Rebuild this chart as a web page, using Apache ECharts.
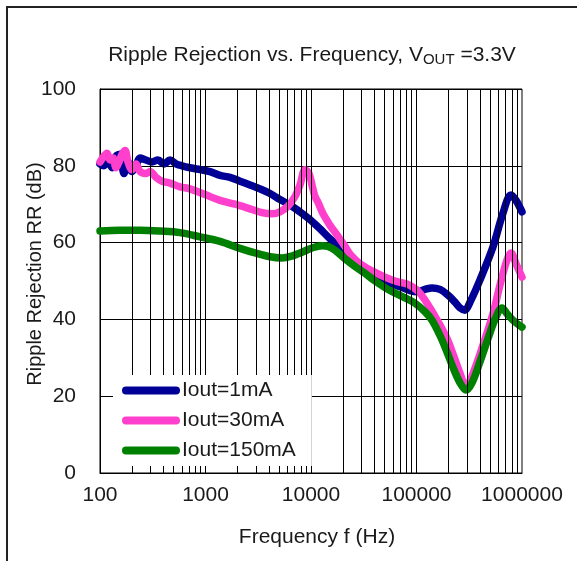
<!DOCTYPE html>
<html>
<head>
<meta charset="utf-8">
<script src="https://cdn.jsdelivr.net/npm/echarts@6/dist/echarts.min.js"></script>
<style>
html,body{margin:0;padding:0;background:#fff;}
#chart{width:577px;height:561px;}
</style>
</head>
<body>
<div id="chart"></div>
<script>
// ---- data ----
var seriesNames = ['Iout=1mA', 'Iout=30mA', 'Iout=150mA'];
var xTickLabels = ['100', '1000', '10000', '100000', '1000000'];
var yTickLabels = [0, 20, 40, 60, 80, 100];

var freq1mA = [100,109,119,130,141.8,154.8,168.8,184.2,201,219.4,239.4,273,311,354.6,404.3,460.8,525.3,598.8,713,887,1103,1372,1707,2123,2641,3285,4088,5085,6323,7865,9783,12170,15140,18830,23430,29140,36250,45080,56090,69770,86780,103300,120400,140300,167000,198900,231700,258400,288200,321500,399900,531200,660600,786500,877200,1000000];
var rr1mA   = [80.5,80,81.5,79.5,82.5,83,78,81,78.5,80,82,81.5,81,81.5,80.5,81.5,80.5,80,79.5,79,78.5,77.5,77,76,75,74,72.8,71.2,69.8,68,66,63.6,61,58.8,56.2,54,52.3,50.8,49.5,48.5,47.5,47.2,47.8,48.2,47.8,46.3,44.5,43,42.4,44.5,50.3,58.9,67.7,72.4,71,68];

var freq30mA = [100,109,116.5,124.4,132.8,141.8,151.4,161.6,172.6,184.2,201,219.4,239.4,273,297.8,339.5,387,460.8,573.3,713,989,1372,1904,2641,3431,4268,5085,6053,7053,7865,8772,9572,10220,10910,11650,13000,15140,17640,21010,23430,29140,38700,50280,62560,81280,96780,108000,134300,167000,194600,221800,258400,294500,321500,399900,531200,618800,720800,786500,877200,1000000];
var rr30mA   = [81,82.5,83.3,81.5,82,79.5,81,83,84,81,79,80.5,78.5,78,78.5,77,76,75.5,74.5,74,72.5,71,70,68.8,67.8,67.5,68,69.5,72,75,79,78,75,72,70.5,67.5,64.5,62,59,57,54.5,52.5,51,50,49.2,48,46.8,43,38.5,35,31,26,22.6,24,31,41.5,49,55.5,57.3,54.5,51];

var freq150mA = [100,154.8,239.4,370.5,573.3,887,1372,2123,2946,4088,5311,6605,8215,10220,12720,14500,16890,21010,26140,32500,40430,56090,77800,96780,120400,140300,167000,194600,221800,258400,294500,335700,399900,476100,554800,646400,720800,821400,1000000];
var rr150mA   = [63,63.2,63.2,63,62.6,61.5,60.3,58.5,57.3,56.3,56,56.5,57.5,58.6,59.2,59,58,55.8,53.8,52,50,47.5,45.6,44.2,42,39.8,35.8,31.5,27.5,23.5,21.6,23.5,29,35,40,43,41.5,39.8,38];

var seriesColors = ['#000096', '#ff40cc', '#008000'];

// vertical grid line positions (1-9 per decade)
var gridFreqs = [];
for (var d = 100; d < 1000000; d *= 10) {
  for (var m = 1; m <= 9; m++) {
    if (d === 100 && m === 1) continue;
    gridFreqs.push(d * m);
  }
}

function zip(xs, ys) { return xs.map(function (x, i) { return [x, ys[i]]; }); }

var font = 'Liberation Sans, Arial, sans-serif';
var chart = echarts.init(document.getElementById('chart'), null, {renderer: 'canvas'});

function lineSeries(name, data, color) {
  return {
    name: name, type: 'line', data: data, showSymbol: false, symbol: 'none',
    smooth: 0.35, z: 3,
    lineStyle: {color: color, width: 7.5, cap: 'round', join: 'round'},
    itemStyle: {color: color}
  };
}

var stadium = 'path://M4,0 L54,0 A4,4 0 0 1 54,8 L4,8 A4,4 0 0 1 4,0 Z';

var option = {
  animation: false,
  backgroundColor: '#fff',
  title: {
    text: 'Ripple Rejection vs. Frequency, V{sub|OUT} =3.3V',
    left: 307, top: 38, textAlign: 'center',
    textStyle: {
      fontFamily: font, fontSize: 21, fontWeight: 'normal', color: '#1a1a1a', lineHeight: 24,
      rich: {sub: {fontFamily: font, fontSize: 15, lineHeight: 15, verticalAlign: 'bottom', color: '#1a1a1a'}}
    }
  },
  graphic: [{
    type: 'rect', shape: {x: 7, y: 7, width: 640, height: 640},
    style: {fill: 'none', stroke: '#222', lineWidth: 2}, silent: true
  }],
  legend: {
    orient: 'vertical', left: 113, top: 375,
    data: seriesNames.map(function (n, i) { return {name: n, icon: stadium}; }),
    itemWidth: 58, itemHeight: 8, itemGap: 9,
    backgroundColor: '#fff', padding: [5, 16, 5, 9], z: 10,
    textStyle: {fontFamily: font, fontSize: 21, color: '#1a1a1a', lineHeight: 20, padding: [0, 0, 0, -3]}
  },
  grid: {left: 100, right: 55, top: 89, bottom: 88, show: true, borderColor: '#000', borderWidth: 1, backgroundColor: 'transparent'},
  xAxis: {
    type: 'log', logBase: 10, min: 100, max: 1000000,
    name: 'Frequency f (Hz)', nameLocation: 'middle', nameGap: 54, nameMoveOverlap: false,
    nameTextStyle: {fontFamily: font, fontSize: 21, color: '#1a1a1a', padding: [0, 0, 0, 12]},
    axisLine: {show: true, lineStyle: {color: '#000', width: 1}},
    axisTick: {show: false},
    splitLine: {show: false},
    minorTick: {show: false},
    axisLabel: {
      fontFamily: font, fontSize: 21, color: '#1a1a1a', margin: 12,
      formatter: function (v) {
        var e = Math.round(Math.log10(v));
        return xTickLabels[e - 2] || '';
      }
    }
  },
  yAxis: {
    type: 'value', min: 0, max: 100, interval: 20,
    name: 'Ripple Rejection RR (dB)', nameLocation: 'middle', nameGap: 55, nameMoveOverlap: false,
    nameTextStyle: {fontFamily: font, fontSize: 20, color: '#1a1a1a', padding: [0, 0, 0, 14]},
    axisLine: {show: true, lineStyle: {color: '#000', width: 1}},
    axisTick: {show: false},
    splitLine: {show: true, lineStyle: {color: '#000', width: 1}},
    axisLabel: {
      fontFamily: font, fontSize: 21, color: '#1a1a1a', margin: 24,
      formatter: function (v) { return yTickLabels.indexOf(v) >= 0 ? String(v) : ''; }
    }
  },
  series: [
    {
      name: 'gridlines', type: 'line', data: [], z: 1, silent: true,
      markLine: {
        silent: true, symbol: ['none', 'none'], animation: false,
        label: {show: false},
        lineStyle: {color: '#000', width: 1, type: 'solid'},
        emphasis: {disabled: true},
        data: gridFreqs.map(function (f) { return {xAxis: f}; })
      }
    },
    lineSeries(seriesNames[0], zip(freq1mA, rr1mA), seriesColors[0]),
    lineSeries(seriesNames[1], zip(freq30mA, rr30mA), seriesColors[1]),
    lineSeries(seriesNames[2], zip(freq150mA, rr150mA), seriesColors[2])
  ]
};
chart.setOption(option);
</script>
</body>
</html>
